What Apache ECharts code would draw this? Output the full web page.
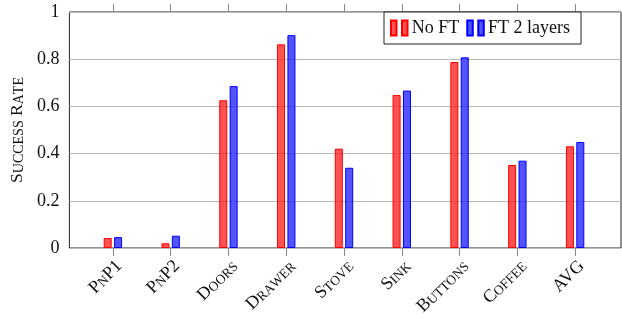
<!DOCTYPE html>
<html lang="en">
<head>
    <meta charset="UTF-8">
    <script src="https://cdn.jsdelivr.net/npm/echarts@6/dist/echarts.min.js"></script>
    <title>Success Rate</title>
</head>
<body style="margin:0;background:#fff">
<div id="main" style="width:622px;height:319px;"></div>
<script>
    // data
    var categories = ['PnP1', 'PnP2', 'Doors', 'Drawer', 'Stove', 'Sink', 'Buttons', 'Coffee', 'AVG'];
    var noFT = [0.042, 0.020, 0.626, 0.863, 0.421, 0.648, 0.788, 0.352, 0.431];
    var ft2 = [0.046, 0.052, 0.686, 0.902, 0.340, 0.667, 0.808, 0.370, 0.449];
    var yTicks = [0, 0.2, 0.4, 0.6, 0.8, 1];

    var serif = '"Liberation Serif", "DejaVu Serif", serif';

    // fake small caps: lowercase letters become smaller capitals
    function smallCaps(s) {
        var out = '';
        for (var i = 0; i < s.length; i++) {
            var c = s[i];
            if (c >= 'a' && c <= 'z') {
                out += '{s|' + c.toUpperCase() + '}';
            } else {
                out += '{b|' + c + '}';
            }
        }
        return out;
    }

    var myChart = echarts.init(document.getElementById('main'));
    var option = {
        animation: false,
        grid: [
            {left: 66, top: 12, width: 555, height: 236, show: true, borderColor: '#222', borderWidth: 1, backgroundColor: 'transparent'},
            {left: 84, top: 12, width: 520, height: 236}
        ],
        legend: {
            data: ['No FT', 'FT 2 layers'],
            right: 41,
            top: 12,
            orient: 'horizontal',
            icon: 'path://M0,0h5.5v15h-5.5z M11,0h5.5v15h-5.5z',
            itemWidth: 17,
            itemHeight: 15,
            itemGap: 7,
            padding: [7, 11, 7, 6],
            borderColor: '#222',
            borderWidth: 1,
            borderRadius: 0,
            backgroundColor: '#fff',
            textStyle: {fontFamily: serif, fontSize: 18, color: '#111', padding: [0, 0, 0, -1]}
        },
        xAxis: [
            {gridIndex: 0, type: 'value', show: false, min: 0, max: 1},
            {
                gridIndex: 1, type: 'category', data: categories, position: 'bottom',
                axisLine: {show: false},
                axisTick: {show: true, alignWithLabel: true, length: 8, lineStyle: {color: '#888'}},
                axisLabel: {
                    rotate: 45, margin: 9, interval: 0, verticalAlign: 'top',
                    formatter: function (v) { return v === 'AVG' ? '{b|AVG}' : smallCaps(v); },
                    rich: {
                        b: {fontFamily: serif, fontSize: 18, color: '#111', verticalAlign: 'bottom'},
                        s: {fontFamily: serif, fontSize: 13.5, color: '#111', verticalAlign: 'bottom'}
                    }
                }
            },
            {
                gridIndex: 1, type: 'category', data: categories, position: 'top',
                axisLine: {show: false},
                axisTick: {show: true, alignWithLabel: true, length: 8, lineStyle: {color: '#888'}},
                axisLabel: {show: false}
            }
        ],
        yAxis: [
            {
                gridIndex: 0, type: 'value', min: 0, max: 1, interval: 0.2,
                axisLine: {show: false},
                axisTick: {show: false},
                splitLine: {lineStyle: {color: '#b8b8b8'}},
                axisLabel: {
                    fontFamily: serif, fontSize: 18, color: '#111', margin: 10,
                    formatter: function (v) {
                        var s = Math.round(v * 10) / 10;
                        return yTicks.indexOf(s) >= 0 ? String(s) : '';
                    }
                },
                name: smallCaps('Success Rate'),
                nameLocation: 'middle',
                nameGap: 43,
                nameRotate: 90,
                nameTextStyle: {
                    rich: {
                        b: {fontFamily: serif, fontSize: 17.5, color: '#111', verticalAlign: 'bottom'},
                        s: {fontFamily: serif, fontSize: 14, color: '#111', verticalAlign: 'bottom'}
                    }
                }
            },
            {gridIndex: 1, type: 'value', min: 0, max: 1, show: false}
        ],
        series: [
            {
                name: 'No FT', type: 'bar', xAxisIndex: 1, yAxisIndex: 1,
                data: noFT, barWidth: 8, barGap: '30%',
                itemStyle: {color: 'rgba(255,40,40,0.8)', borderColor: '#ff0000', borderWidth: 1}
            },
            {
                name: 'FT 2 layers', type: 'bar', xAxisIndex: 1, yAxisIndex: 1,
                data: ft2, barWidth: 8, barGap: '30%',
                itemStyle: {color: 'rgba(40,40,255,0.8)', borderColor: '#0000ff', borderWidth: 1}
            }
        ]
    };
    myChart.setOption(option);
</script>
</body>
</html>
